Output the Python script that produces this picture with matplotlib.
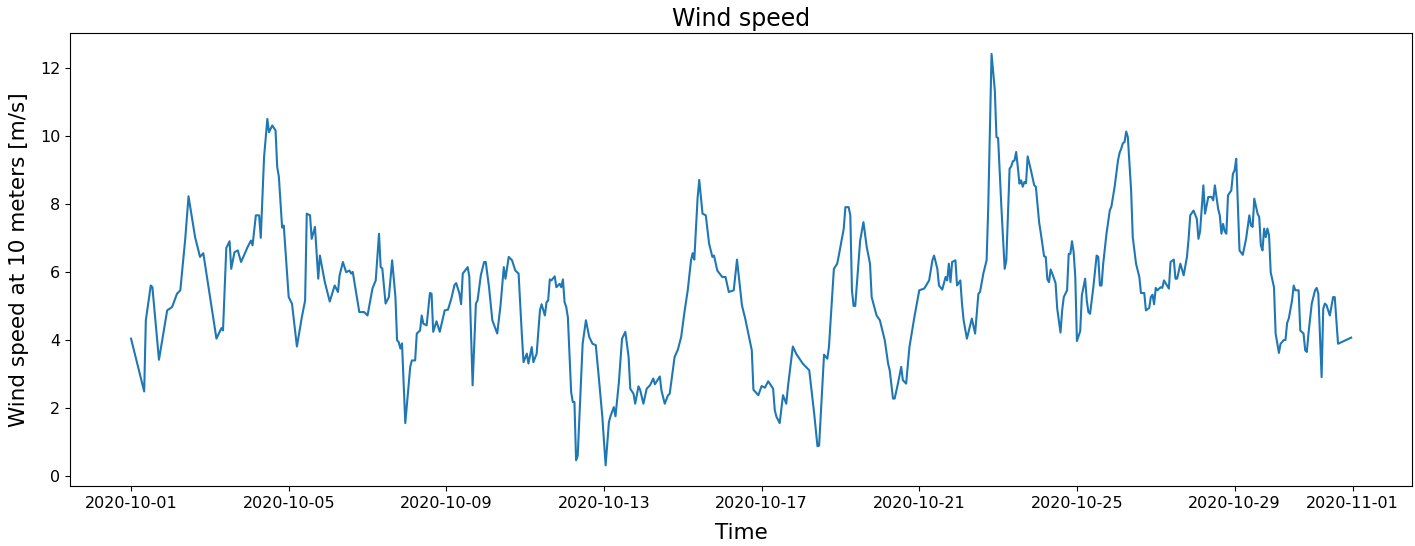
import pandas as pd
import matplotlib
matplotlib.use("Agg")
import matplotlib.pyplot as plt
import matplotlib.dates as mdates

# hours since 2020-10-01 00:00 and wind speed [m/s]
start = "2020-10-01 00:00"
hours = [
    0, 8, 9, 12, 13, 17, 22, 25, 28, 30, 33, 35, 39, 42, 44, 52, 55, 56, 58, 60,
    61, 63, 65, 67, 71, 73, 74, 76, 78, 79, 81, 83, 84, 86, 88, 89, 90, 92, 93, 96,
    98, 101, 104, 106, 107, 109, 110, 112, 114, 115, 118, 121, 124, 126, 127, 129, 131, 133, 134, 135,
    139, 142, 144, 147, 149, 151, 152, 153, 155, 157, 159, 161, 162, 163, 164, 165, 167, 170, 171, 173,
    174, 176, 177, 178, 180, 182, 183, 184, 186, 188, 191, 193, 195, 197, 198, 200, 201, 202, 205, 206,
    208, 210, 211, 213, 215, 216, 218, 220, 223, 225, 227, 228, 230, 232, 234, 236, 238, 239, 241, 242,
    244, 245, 247, 249, 250, 252, 253, 254, 255, 256, 258, 259, 261, 262, 263, 264, 265, 266, 268, 269,
    270, 271, 272, 275, 277, 279, 281, 283, 285, 287, 289, 291, 292, 294, 295, 297, 299, 301, 303, 304,
    306, 307, 309, 310, 312, 314, 316, 318, 319, 322, 323, 325, 327, 328, 331, 333, 335, 337, 339, 341,
    342, 343, 345, 346, 348, 350, 352, 354, 355, 357, 360, 362, 364, 367, 369, 372, 374, 378, 379, 382,
    384, 386, 388, 391, 392, 393, 395, 397, 399, 400, 403, 405, 409, 411, 413, 416, 418, 419, 422, 424,
    425, 428, 430, 431, 434, 435, 437, 438, 439, 440, 441, 444, 446, 448, 450, 451, 454, 456, 459, 461,
    462, 464, 465, 467, 469, 470, 472, 474, 477, 480, 483, 486, 488, 489, 491, 492, 494, 496, 497, 498,
    499, 500, 502, 503, 505, 506, 507, 509, 512, 514, 516, 517, 519, 521, 522, 524, 526, 527, 528, 530,
    532, 533, 535, 536, 537, 538, 539, 540, 541, 542, 543, 544, 545, 546, 548, 550, 551, 553, 554, 556,
    557, 558, 559, 560, 561, 563, 564, 566, 567, 568, 570, 571, 572, 573, 574, 575, 576, 578, 579, 581,
    582, 583, 584, 586, 588, 589, 590, 591, 592, 594, 596, 597, 599, 601, 602, 603, 604, 605, 606, 607,
    609, 610, 612, 613, 614, 615, 617, 618, 620, 621, 622, 623, 624, 625, 627, 628, 629, 630, 632, 633,
    635, 636, 637, 639, 641, 643, 644, 645, 647, 649, 650, 651, 653, 654, 656, 658, 659, 660, 662, 663,
    664, 665, 666, 667, 668, 670, 671, 672, 673, 674, 675, 677, 679, 681, 682, 683, 684, 686, 687, 688,
    689, 690, 691, 692, 693, 694, 696, 697, 699, 700, 702, 703, 704, 705, 707, 708, 709, 711, 712, 714,
    715, 716, 717, 719, 721, 722, 723, 725, 726, 727, 728, 730, 732, 733, 735, 743,
]
speed = [
    4.04, 2.49, 4.58, 5.6, 5.55, 3.42, 4.87, 4.97, 5.36, 5.46, 6.97, 8.22, 7.02, 6.44, 6.55, 4.04, 4.35, 4.28, 6.7, 6.9,
    6.09, 6.58, 6.63, 6.29, 6.73, 6.92, 6.78, 7.66, 7.66, 7.0, 9.37, 10.49, 10.1, 10.3, 10.15, 9.08, 8.8, 7.3, 7.36, 5.26,
    5.07, 3.81, 4.67, 5.16, 7.71, 7.66, 6.97, 7.32, 5.8, 6.48, 5.7, 5.13, 5.6, 5.41, 5.9, 6.29, 5.99, 6.04, 5.95, 6.0,
    4.82, 4.82, 4.72, 5.51, 5.75, 7.12, 6.14, 6.1, 5.07, 5.26, 6.34, 5.26, 3.99, 3.94, 3.75, 3.9, 1.56, 3.21, 3.4, 3.4,
    4.19, 4.28, 4.72, 4.48, 4.43, 5.38, 5.36, 4.24, 4.55, 4.24, 4.87, 4.89, 5.21, 5.62, 5.67, 5.36, 5.05, 5.95, 6.14, 5.85,
    2.67, 5.07, 5.16, 5.9, 6.29, 6.29, 5.55, 4.58, 4.19, 5.02, 6.14, 5.8, 6.44, 6.34, 6.04, 5.95, 4.14, 3.35, 3.6, 3.31,
    3.79, 3.35, 3.6, 4.87, 5.05, 4.72, 5.11, 5.16, 5.78, 5.75, 5.87, 5.55, 5.65, 5.55, 5.78, 5.11, 4.97, 4.67, 2.47, 2.18,
    2.18, 0.47, 0.6, 3.89, 4.58, 4.09, 3.89, 3.85, 2.82, 1.74, 0.32, 1.59, 1.77, 2.03, 1.76, 2.72, 4.04, 4.24, 3.5, 2.57,
    2.42, 2.13, 2.64, 2.54, 2.13, 2.57, 2.67, 2.87, 2.7, 2.93, 2.52, 2.13, 2.38, 2.42, 3.5, 3.72, 4.09, 4.82, 5.46, 6.34,
    6.55, 6.36, 8.17, 8.7, 7.71, 7.66, 6.83, 6.44, 6.48, 6.04, 5.85, 5.85, 5.41, 5.46, 6.36, 5.02, 4.63, 3.7, 2.54, 2.38,
    2.65, 2.6, 2.79, 2.57, 1.94, 1.75, 1.56, 2.38, 2.13, 2.62, 3.81, 3.6, 3.31, 3.21, 3.11, 1.84, 0.88, 0.9, 3.57, 3.45,
    3.8, 6.09, 6.24, 6.48, 7.27, 7.9, 7.9, 7.66, 5.46, 5.0, 5.0, 6.92, 7.46, 6.73, 6.24, 5.26, 4.72, 4.58, 3.99, 3.31,
    3.11, 2.28, 2.28, 2.72, 3.21, 2.82, 2.72, 3.79, 4.67, 5.46, 5.51, 5.75, 6.34, 6.48, 6.09, 5.6, 5.48, 5.85, 5.75, 6.24,
    5.7, 6.29, 6.34, 5.6, 5.75, 5.07, 4.58, 4.04, 4.63, 4.19, 5.36, 5.41, 5.95, 6.34, 7.9, 12.4, 11.33, 9.96, 9.93, 7.9,
    6.09, 6.34, 9.03, 9.1, 9.25, 9.27, 9.52, 9.08, 8.59, 8.69, 8.5, 8.64, 8.6, 9.39, 8.98, 8.54, 8.5, 7.45, 7.14, 6.46,
    6.44, 5.78, 5.7, 6.07, 5.95, 5.67, 4.92, 4.22, 4.87, 5.26, 5.46, 6.53, 6.53, 6.9, 6.58, 5.85, 3.97, 4.26, 5.31, 5.8,
    5.16, 4.82, 4.77, 5.55, 6.48, 6.44, 5.6, 5.6, 6.24, 7.12, 7.8, 7.92, 8.51, 9.27, 9.5, 9.62, 9.78, 9.81, 10.12, 9.96,
    8.39, 7.02, 6.24, 6.04, 5.85, 5.38, 5.38, 4.87, 4.94, 5.26, 5.33, 5.05, 5.53, 5.46, 5.55, 5.53, 5.75, 5.67, 5.51, 6.29,
    6.36, 5.8, 5.8, 6.24, 5.9, 6.44, 6.97, 7.66, 7.8, 7.56, 6.97, 7.19, 8.54, 7.71, 8.2, 8.2, 8.1, 8.54, 7.85, 7.66,
    7.12, 7.41, 7.19, 7.12, 8.25, 8.39, 8.88, 8.98, 9.32, 7.95, 6.63, 6.5, 6.97, 7.66, 7.36, 7.32, 8.15, 7.71, 7.61, 6.78,
    6.63, 7.27, 7.02, 7.27, 7.07, 5.99, 5.55, 4.19, 3.62, 3.89, 4.0, 4.0, 4.5, 4.63, 5.16, 5.6, 5.46, 5.46, 4.28, 4.19,
    3.7, 3.65, 4.19, 5.07, 5.46, 5.53, 5.36, 2.91, 4.92, 5.07, 5.02, 4.72, 5.26, 5.26, 3.89, 4.07,
]

times = pd.Timestamp(start) + pd.to_timedelta(hours, unit="h")

fig, ax = plt.subplots(figsize=(14.15, 5.46), dpi=100)
fig.subplots_adjust(left=0.0495, right=0.998, top=0.939, bottom=0.110)

ax.plot(times, speed, color="tab:blue", linewidth=1.5)

ax.xaxis.set_major_locator(mdates.DayLocator(bymonthday=range(1, 32, 4)))
ax.xaxis.set_major_formatter(mdates.DateFormatter("%Y-%m-%d"))
ax.tick_params(labelsize=11.5)

ax.set_title("Wind speed", fontsize=17, pad=5)
ax.set_xlabel("Time", fontsize=15.5, labelpad=9)
ax.set_ylabel("Wind speed at 10 meters [m/s]", fontsize=15.5, labelpad=8)

fig.savefig("out.png")
